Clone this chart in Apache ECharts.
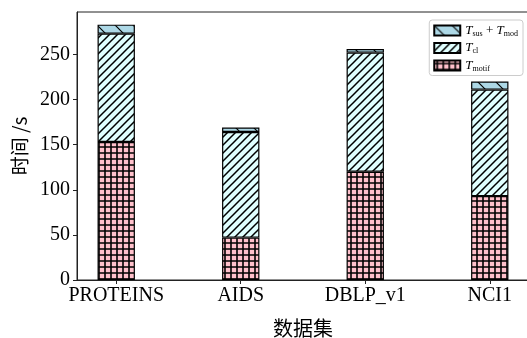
<!DOCTYPE html>
<html>
<head>
<meta charset="utf-8">
<script src="https://cdn.jsdelivr.net/npm/echarts@6/dist/echarts.min.js"></script>
<style>
  html, body { margin: 0; padding: 0; background: #fff; }
  #chart { width: 527px; height: 338px; }
</style>
</head>
<body>
<div id="chart"></div>
<script>
// Datasets and per-stage running time (seconds)
const categories = ['PROTEINS', 'AIDS', 'DBLP_v1', 'NCI1'];
const motifTime = [153, 47, 120, 93];
const clTime = [120, 117, 132, 118];
const susModTime = [10, 5, 4, 9];
const yTicks = [0, 50, 100, 150, 200, 250];

const seriesNames = ['T_motif', 'T_cl', 'T_sus + T_mod'];
const valueSets = [motifTime, clTime, susModTime];

// Hatch pattern tiles drawn on small canvases
function makePattern(bg, kind, period, lw) {
  const c = document.createElement('canvas');
  c.width = period; c.height = period;
  const g = c.getContext('2d');
  g.fillStyle = bg;
  g.fillRect(0, 0, period, period);
  g.strokeStyle = '#000';
  g.lineWidth = lw;
  g.beginPath();
  const p = period;
  if (kind === '/') {
    g.moveTo(-1, p + 1); g.lineTo(p + 1, -1);
    g.moveTo(-p - 1, p + 1); g.lineTo(1, -1);
    g.moveTo(p - 1, p + 1); g.lineTo(2 * p + 1, -1);
  } else if (kind === '\\') {
    g.moveTo(-1, -1); g.lineTo(p + 1, p + 1);
    g.moveTo(-p - 1, -1); g.lineTo(1, p + 1);
    g.moveTo(p - 1, -1); g.lineTo(2 * p + 1, p + 1);
  } else if (kind === '+') {
    g.moveTo(p / 2, 0); g.lineTo(p / 2, p);
    g.moveTo(0, p / 2); g.lineTo(p, p / 2);
  }
  g.stroke();
  return { image: c, repeat: 'repeat' };
}

const fills = [
  makePattern('#ffc0cb', '+', 6, 1.6),
  makePattern('#e0ffff', '/', 8, 1.5),
  makePattern('#add8e6', '\\', 18, 1.2)
];

const serif = "'Liberation Serif', 'DejaVu Serif', serif";
const cjk = "'Noto Sans CJK SC', sans-serif";

// Plot frame geometry (px) and x extent in category units
const frame = { left: 77, top: 12, width: 452, bottom: 58 };
const xMin = -0.315, xMax = 3.315;
const unit = frame.width / (xMax - xMin);
// Bar grid: category bands one unit wide, centres aligned with the frame's 0..3
const barGridLeft = frame.left + (-0.5 - xMin) * unit;
const barGridWidth = categories.length * unit;

function legendLabel(name) {
  if (name === 'T_motif') return '{t|T}{s|motif}';
  if (name === 'T_cl') return '{t|T}{s|cl}';
  return '{t|T}{s|sus}{p| + }{t|T}{s|mod}';
}

const chart = echarts.init(document.getElementById('chart'), null, { renderer: 'canvas' });

chart.setOption({
  animation: false,
  backgroundColor: '#fff',
  grid: [
    {
      left: frame.left, top: frame.top, width: frame.width, bottom: frame.bottom,
      containLabel: false, outerBoundsMode: 'none',
      show: true, borderColor: '#222', borderWidth: 1, backgroundColor: 'transparent'
    },
    {
      left: barGridLeft, top: frame.top, width: barGridWidth, bottom: frame.bottom,
      containLabel: false, outerBoundsMode: 'none'
    }
  ],
  legend: {
    orient: 'vertical',
    right: 4, top: 20,
    data: ['T_sus + T_mod', 'T_cl', 'T_motif'],
    itemWidth: 26, itemHeight: 10, itemGap: 4,
    padding: [4, 5, 3, 4],
    backgroundColor: '#fff',
    borderColor: '#cccccc', borderWidth: 1, borderRadius: 3,
    icon: 'rect',
    formatter: legendLabel,
    textStyle: {
      color: '#000',
      rich: {
        t: { fontFamily: serif, fontStyle: 'italic', fontSize: 13, color: '#000' },
        s: { fontFamily: serif, fontSize: 8, color: '#000', padding: [6, 0, 0, 0] },
        p: { fontFamily: serif, fontSize: 13, color: '#000' }
      }
    }
  },
  xAxis: [
    {
      gridIndex: 0,
      type: 'value',
      min: xMin, max: xMax,
      name: '数据集',
      nameLocation: 'middle',
      nameGap: 38,
      nameTextStyle: { fontFamily: cjk, fontSize: 20, color: '#000' },
      splitLine: { show: false },
      axisLine: { show: true, onZero: false, lineStyle: { color: '#222', width: 1 } },
      axisTick: { show: true, length: 4, lineStyle: { color: '#222' }, customValues: [0, 1, 2, 3] },
      axisLabel: {
        customValues: [0, 1, 2, 3],
        formatter: v => categories[Math.round(v)],
        fontFamily: serif, fontSize: 20, color: '#000', margin: 6
      }
    },
    {
      gridIndex: 1,
      type: 'category',
      data: categories,
      show: false
    }
  ],
  yAxis: [
    {
      gridIndex: 0,
      type: 'value',
      min: 0, max: 297,
      name: '时间 /s',
      nameLocation: 'middle',
      nameGap: 46,
      nameRotate: 90,
      nameTextStyle: { fontFamily: cjk, fontSize: 19, color: '#000' },
      splitLine: { show: false },
      axisLine: { show: true, onZero: false, lineStyle: { color: '#222', width: 1 } },
      axisTick: { show: true, length: 4, lineStyle: { color: '#222' }, customValues: yTicks },
      axisLabel: {
        customValues: yTicks,
        fontFamily: serif, fontSize: 20, color: '#000', margin: 7
      }
    },
    {
      gridIndex: 1,
      type: 'value',
      min: 0, max: 297,
      show: false
    }
  ],
  series: seriesNames.map((name, i) => ({
    name: name,
    type: 'bar',
    stack: 'time',
    xAxisIndex: 1,
    yAxisIndex: 1,
    barWidth: '30%',
    data: valueSets[i],
    itemStyle: { color: fills[i], borderColor: '#000', borderWidth: 1.2 }
  }))
});
</script>
</body>
</html>
